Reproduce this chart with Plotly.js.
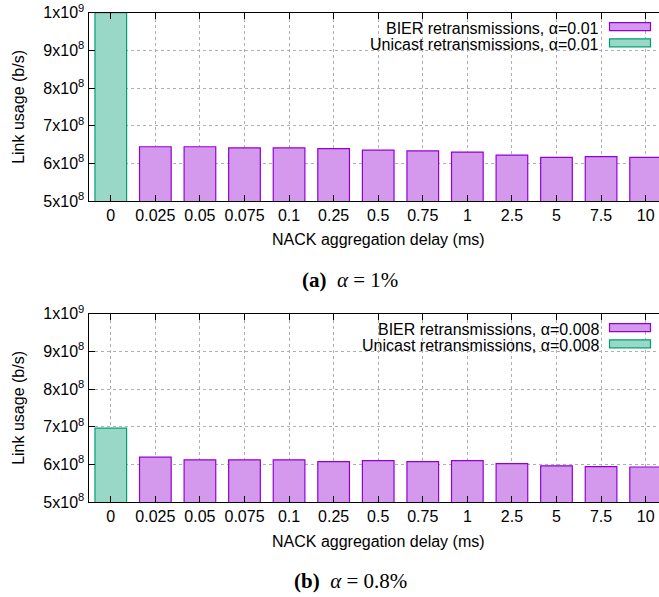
<!DOCTYPE html>
<html>
<head>
<meta charset="utf-8">
<script src="https://cdn.plot.ly/plotly-3.0.1.min.js"></script>
<style>html,body{margin:0;padding:0;background:#fff;}#chart{width:659px;height:597px;}</style>
</head>
<body>
<div id="chart"></div>
<script>
// ---- data ----
var categories = ['0','0.025','0.05','0.075','0.1','0.25','0.5','0.75','1','2.5','5','7.5','10'];
var bierA    = [null, 6.44e8, 6.44e8, 6.41e8, 6.41e8, 6.39e8, 6.35e8, 6.33e8, 6.30e8, 6.22e8, 6.16e8, 6.18e8, 6.16e8];
var unicastA = [1.0e9, null, null, null, null, null, null, null, null, null, null, null, null];
var bierB    = [null, 6.19e8, 6.12e8, 6.12e8, 6.12e8, 6.07e8, 6.10e8, 6.07e8, 6.10e8, 6.02e8, 5.96e8, 5.94e8, 5.93e8];
var unicastB = [6.96e8, null, null, null, null, null, null, null, null, null, null, null, null];
var yTickVals = [5e8, 6e8, 7e8, 8e8, 9e8, 1e9];
var yTickText = ['5x10<sup>8</sup>','6x10<sup>8</sup>','7x10<sup>8</sup>','8x10<sup>8</sup>','9x10<sup>8</sup>','1x10<sup>9</sup>'];
var namesA = ['BIER retransmissions, α=0.01', 'Unicast retransmissions, α=0.01'];
var namesB = ['BIER retransmissions, α=0.008', 'Unicast retransmissions, α=0.008'];
var xTitle = 'NACK aggregation delay (ms)';
var yTitle = 'Link usage (b/s)';
var captions = ['<b>(a)</b>\u00a0\u00a0<i>α</i>\u00a0=\u00a01%', '<b>(b)</b>\u00a0\u00a0<i>α</i>\u00a0=\u00a00.8%'];

// ---- style ----
var W = 659, H = 597;
function px(x){ return x / W; }
function py(y){ return 1 - y / H; }
var FONT = 'Liberation Sans, Arial, sans-serif';
var FS = 16;
var purpleLine = '#9400d3', purpleFill = '#d499ed';
var greenLine = '#009e73', greenFill = '#99d8c7';
var plotLeft = 88.5;
var panels = [{top: 12.7, bottom: 201}, {top: 313.7, bottom: 502}];

function barTrace(y, fill, line, name, xa, ya){
  return {type:'bar', x:categories, y:y, name:name, xaxis:xa, yaxis:ya,
    marker:{color:fill, line:{color:line, width:1.2}}, showlegend:false, hoverinfo:'skip'};
}
var data = [
  barTrace(unicastA, greenFill, greenLine, namesA[1], 'x', 'y'),
  barTrace(bierA, purpleFill, purpleLine, namesA[0], 'x', 'y'),
  barTrace(unicastB, greenFill, greenLine, namesB[1], 'x2', 'y2'),
  barTrace(bierB, purpleFill, purpleLine, namesB[0], 'x2', 'y2')
];

function xAxis(anchor){
  return {anchor:anchor, domain:[px(plotLeft), 1], type:'category', range:[-0.5, 12.3],
    showline:true, linecolor:'#000', linewidth:1, mirror:'ticks',
    ticks:'inside', ticklen:6, tickcolor:'#000', tickwidth:1,
    showgrid:true, gridcolor:'#b0b0b0', gridwidth:1, griddash:'dot',
    tickfont:{family:FONT, size:FS, color:'#000'}, zeroline:false, fixedrange:true};
}
function yAxis(anchor, p){
  return {anchor:anchor, domain:[py(p.bottom), py(p.top)], range:[5e8, 1e9],
    tickmode:'array', tickvals:yTickVals, ticktext:yTickText,
    showline:true, linecolor:'#000', linewidth:1, mirror:false,
    ticks:'inside', ticklen:6, tickcolor:'#000', tickwidth:1,
    showgrid:true, gridcolor:'#b0b0b0', gridwidth:1, griddash:'dot',
    tickfont:{family:FONT, size:FS, color:'#000'}, zeroline:false, fixedrange:true};
}

var shapes = [], annotations = [];
var legendSets = [namesA, namesB];
var legendCoverLeft = [318, 310];
panels.forEach(function(p, i){
  // opaque key box covering grid
  shapes.push({type:'rect', xref:'paper', yref:'paper', layer:'between',
    x0:px(legendCoverLeft[i]), x1:1, y0:py(p.top + 38.5), y1:py(p.top + 0.5),
    fillcolor:'#fff', line:{width:0}});
  var rows = [{c:14.0, fill:purpleFill, line:purpleLine, name:legendSets[i][0]},
              {c:30.1, fill:greenFill, line:greenLine, name:legendSets[i][1]}];
  rows.forEach(function(r){
    var yc = p.top + r.c;
    shapes.push({type:'rect', xref:'paper', yref:'paper', layer:'above',
      x0:px(609.5), x1:px(650.5), y0:py(yc + 4), y1:py(yc - 4),
      fillcolor:r.fill, line:{color:r.line, width:1.2}});
    annotations.push({xref:'paper', yref:'paper', x:px(601), y:py(yc + 1.5), xanchor:'right', yanchor:'middle',
      text:r.name, showarrow:false, font:{family:FONT, size:FS, color:'#000'}});
  });
  // axis titles
  annotations.push({xref:'paper', yref:'paper', x:px(378), y:py(p.bottom + 39), xanchor:'center', yanchor:'middle',
    text:xTitle, showarrow:false, font:{family:FONT, size:FS, color:'#000'}});
  annotations.push({xref:'paper', yref:'paper', x:px(19), y:py((p.top + p.bottom)/2), xanchor:'center', yanchor:'middle',
    text:yTitle, textangle:-90, showarrow:false, font:{family:FONT, size:FS, color:'#000'}});
  // caption
  annotations.push({xref:'paper', yref:'paper', x:px(350), y:py(p.bottom + 78.5), xanchor:'center', yanchor:'middle',
    text:captions[i], showarrow:false, font:{family:'Liberation Serif, Times New Roman, serif', size:21, color:'#000'}});
});

var layout = {
  width:W, height:H, margin:{l:0, r:0, t:0, b:0}, paper_bgcolor:'#fff', plot_bgcolor:'#fff',
  barmode:'overlay', bargap:0.29, showlegend:false,
  xaxis:xAxis('y'), yaxis:yAxis('x', panels[0]),
  xaxis2:xAxis('y2'), yaxis2:yAxis('x2', panels[1]),
  shapes:shapes, annotations:annotations
};
Plotly.newPlot('chart', data, layout, {staticPlot:true, displayModeBar:false});
</script>
</body>
</html>
